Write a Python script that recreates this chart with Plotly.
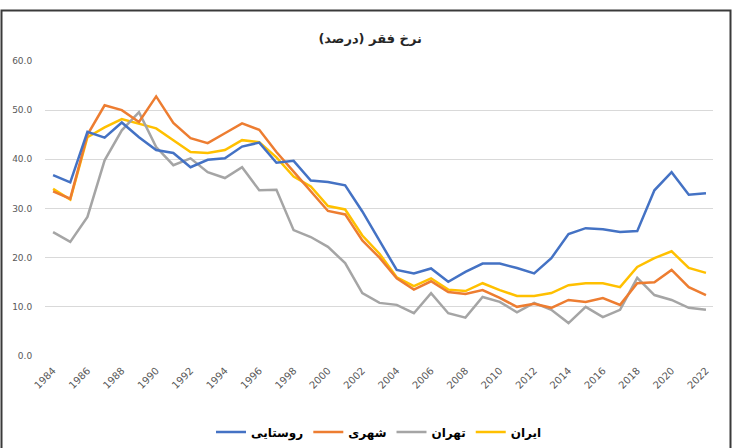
import plotly.graph_objects as go

years = list(range(1984, 2023))

iran = [34.0, 31.8, 44.5, 46.5, 48.2, 47.3, 46.3, 43.9, 41.5, 41.3, 41.9, 43.9, 43.5, 40.4, 36.5,
        34.5, 30.5, 29.8, 24.5, 20.8, 16.0, 14.2, 15.8, 13.5, 13.2, 14.8, 13.4, 12.2, 12.2, 12.8,
        14.4, 14.8, 14.8, 14.0, 18.1, 19.9, 21.3, 17.9, 16.9]
tehran = [25.2, 23.2, 28.3, 39.8, 45.9, 49.6, 42.5, 38.8, 40.2, 37.4, 36.2, 38.4, 33.7, 33.8, 25.6,
          24.2, 22.2, 18.9, 12.8, 10.8, 10.4, 8.7, 12.8, 8.7, 7.8, 12.0, 11.0, 8.9, 10.8, 9.4,
          6.7, 10.0, 7.9, 9.4, 15.9, 12.4, 11.4, 9.8, 9.4]
urban = [33.5, 32.0, 45.0, 51.0, 50.0, 47.6, 52.8, 47.4, 44.3, 43.3, 45.3, 47.3, 46.0, 41.5, 37.5,
         33.5, 29.5, 28.8, 23.5, 20.0, 15.8, 13.5, 15.2, 13.0, 12.6, 13.4, 11.8, 10.0, 10.6, 9.8,
         11.4, 11.0, 11.8, 10.4, 14.8, 15.0, 17.5, 14.0, 12.4]
rural = [36.8, 35.3, 45.6, 44.4, 47.5, 44.5, 41.9, 41.3, 38.4, 39.9, 40.2, 42.6, 43.4, 39.3, 39.7,
         35.7, 35.4, 34.7, 29.4, 23.4, 17.5, 16.8, 17.8, 15.1, 17.1, 18.8, 18.8, 17.9, 16.8, 19.9,
         24.8, 26.0, 25.8, 25.2, 25.4, 33.7, 37.4, 32.8, 33.1]

names = ["ایران", "تهران", "شهری", "روستایی"]
colors = ["#FFC000", "#A5A5A5", "#ED7D31", "#4472C4"]
series = [iran, tehran, urban, rural]

title_text = "<b>نرخ فقر (درصد)</b>"
x_ticks = list(range(1984, 2023, 2))
y_ticks = [0, 10, 20, 30, 40, 50, 60]

font_family = "DejaVu Sans, Noto Sans, sans-serif"

fig = go.Figure()
for name, color, vals in zip(names, colors, series):
    fig.add_trace(go.Scatter(
        x=years, y=vals, name=name, mode="lines",
        line=dict(color=color, width=2.5),
    ))

L, R, T, B = 45, 20, 61, 92
W, H = 733, 448
pw = W - L - R
ph = H - T - B

fig.update_layout(
    width=W, height=H,
    margin=dict(l=L, r=R, t=T, b=B, pad=0, autoexpand=False),
    paper_bgcolor="white",
    plot_bgcolor="white",
    font=dict(family=font_family, color="#595959"),
    title=dict(text=title_text, x=0.505, xanchor="center", y=1 - 38 / H, yanchor="middle",
               font=dict(size=13, color="#262626", family=font_family)),
    showlegend=True,
    legend=dict(orientation="h", x=0.5, xanchor="center",
                yref="container", y=1 - 432 / H, yanchor="middle",
                traceorder="reversed",
                font=dict(size=12, color="#000000", family=font_family, weight="bold"),
                itemwidth=30, bgcolor="rgba(0,0,0,0)", tracegroupgap=0),
    xaxis=dict(range=[1983.53, 2022.41], tickmode="array", tickvals=x_ticks,
               ticktext=[str(v) for v in x_ticks], tickangle=-45, automargin=False,
               tickfont=dict(size=10, color="#595959"),
               showgrid=False, zeroline=False, showline=False,
               ticks="outside", ticklen=4, tickcolor="rgba(0,0,0,0)"),
    yaxis=dict(range=[0, 60], tickmode="array", tickvals=y_ticks, automargin=False,
               ticktext=[f"{v:.1f}" for v in y_ticks],
               tickfont=dict(size=9, color="#595959"),
               showgrid=True, gridcolor="#D9D9D9", gridwidth=1,
               zeroline=False, showline=False,
               ticks="outside", ticklen=10, tickcolor="rgba(0,0,0,0)"),
)

# outer frame of the chart image
fig.add_shape(type="rect", xref="paper", yref="paper",
              x0=(1.5 - L) / pw, x1=(730.5 - L) / pw,
              y0=(H - B - 470) / ph, y1=(H - B - 10.5) / ph,
              line=dict(color="#3a3a3a", width=2), fillcolor="rgba(0,0,0,0)", layer="below")

fig.write_html("out.html",
               config={"displayModeBar": False},
               post_script="document.body.style.margin='0';document.body.style.overflow='hidden';")
